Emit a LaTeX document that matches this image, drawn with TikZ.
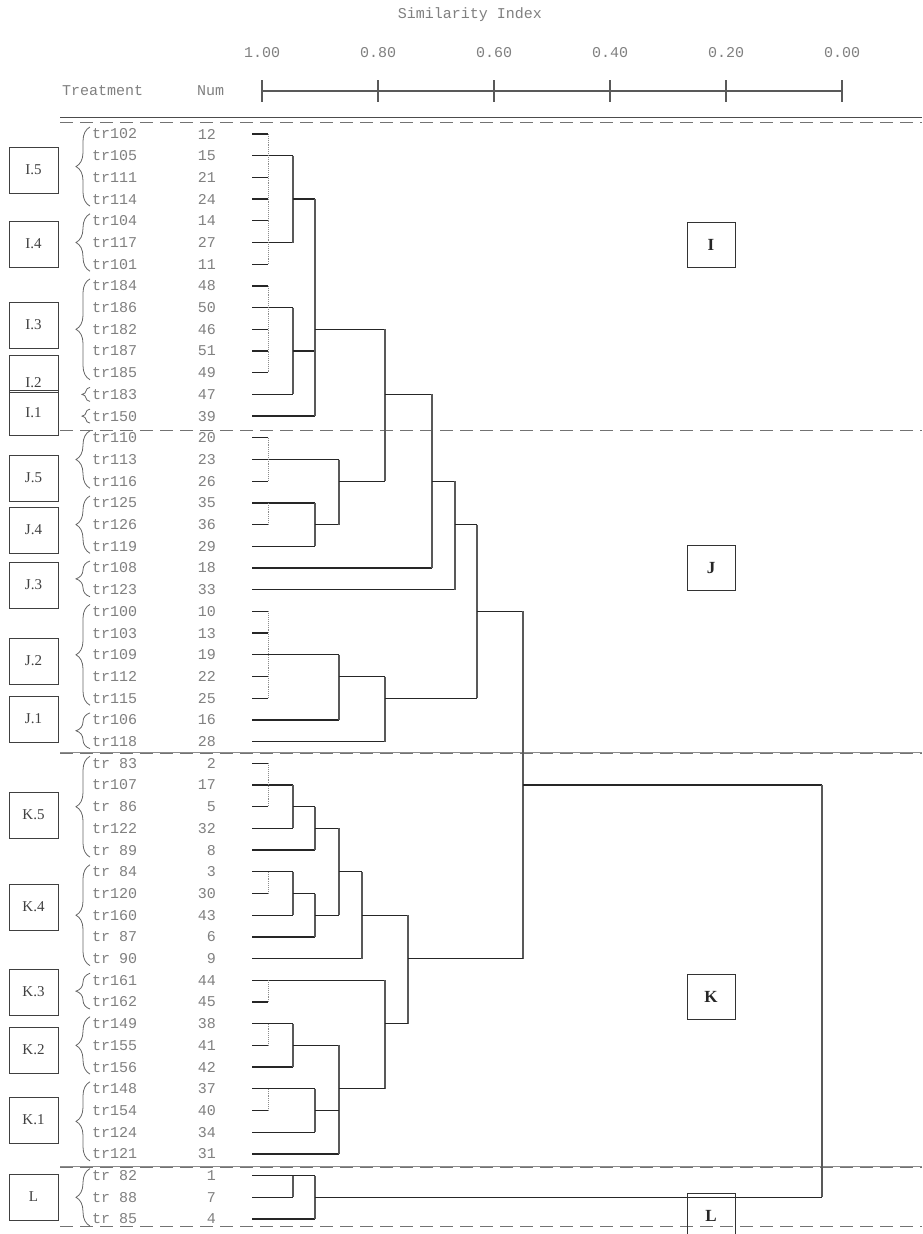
\documentclass[tikz,border=0pt]{standalone}
\usepackage{fontspec}
\setmainfont{Liberation Serif}
\newfontfamily\dotfont{Liberation Mono}
\usetikzlibrary{decorations.pathreplacing}
\newcommand\rowy[1]{134+21.7*(#1)}
\newcommand\Hl[3]{\draw[hl] (#1,{\rowy{#3}}) -- (#2,{\rowy{#3}});}
\newcommand\Vl[3]{\draw[vl] (#1,{\rowy{#2}}) -- (#1,{\rowy{#3}});}
\newcommand\Dv[2]{\draw[dv] (268,{\rowy{#1}}) -- (268,{\rowy{#2}});}
\begin{document}
\begin{tikzpicture}[x=1pt,y=-1pt,
 hl/.style={line width=1.3pt,black!85},
 vl/.style={line width=1.1pt,black!65},
 dv/.style={line width=0.9pt,black!45,densely dotted},
 sep/.style={line width=0.9pt,black!55,dash pattern=on 13pt off 7pt},
 mono/.style={font=\dotfont\fontsize{15}{16}\selectfont,text=black!50,inner sep=0pt},
 grp/.style={draw=black!75,line width=1pt,minimum width=49pt,minimum height=46pt,inner sep=0pt,font=\fontsize{15}{16}\selectfont,text=black!75},
 big/.style={draw=black!80,line width=1pt,minimum width=48pt,minimum height=45pt,inner sep=0pt,font=\fontsize{17}{18}\selectfont\bfseries,text=black!85},
 brc/.style={draw=black!60,line width=0.8pt,decorate,decoration={brace,amplitude=14pt}}]
\useasboundingbox (0,0) rectangle (922,1234);
\fill[white] (0,0) rectangle (922,1234);

% header
\node[mono] (title) at (470,15) {Similarity Index};
\foreach \t/\x in {1.00/262,0.80/378,0.60/494,0.40/610,0.20/726,0.00/842}
  \node[mono] (t\x) at (\x,53) {\t};
\node[mono,anchor=west] (treat) at (62,91) {Treatment};
\node[mono,anchor=west] (numh) at (197,91) {Num};
\draw[vl] (262,91) -- (842,91);
\foreach \x in {262,378,494,610,726,842}
  \draw[vl] (\x,80) -- (\x,102);

% separators
\draw[line width=1pt,black!70] (60,117) -- (922,117);
\draw[sep] (60,122) -- (922,122);
\draw[sep] (60,430) -- (922,430);
\draw[line width=0.6pt,black!45] (60,752) -- (922,752);
\draw[sep] (60,753) -- (922,753);
\draw[line width=0.6pt,black!45] (60,1166) -- (922,1166);
\draw[sep] (60,1167) -- (922,1167);
\draw[sep] (60,1226) -- (922,1226);

% leaves
\foreach \n/\v/\e [count=\i from 0] in {
 tr102/12/268, tr105/15/293, tr111/21/268, tr114/24/268, tr104/14/268, tr117/27/293, tr101/11/268,
 tr184/48/268, tr186/50/293, tr182/46/268, tr187/51/268, tr185/49/268, tr183/47/293, tr150/39/315,
 tr110/20/268, tr113/23/339, tr116/26/268, tr125/35/315, tr126/36/268, tr119/29/315, tr108/18/432, tr123/33/455,
 tr100/10/268, tr103/13/268, tr109/19/339, tr112/22/268, tr115/25/268, tr106/16/339, tr118/28/385,
 tr 83/2/268, tr107/17/293, tr 86/5/268, tr122/32/293, tr 89/8/315,
 tr 84/3/293, tr120/30/268, tr160/43/293, tr 87/6/315, tr 90/9/362,
 tr161/44/385, tr162/45/268,
 tr149/38/293, tr155/41/268, tr156/42/293,
 tr148/37/315, tr154/40/268, tr124/34/315, tr121/31/339,
 tr 82/1/315, tr 88/7/293, tr 85/4/315} {
  \node[mono,anchor=west] (lf\i) at (92,{\rowy{\i}}) {\n};
  \node[mono,anchor=east] (nm\i) at (216,{\rowy{\i}}) {\v};
  \draw[hl] (252,{\rowy{\i}}) -- (\e,{\rowy{\i}});
}

% groups (left)
\foreach \g/\a/\b/\c in {I.5/0/3/170, I.4/4/6/244, I.3/7/11/325, J.5/14/16/478, J.4/17/19/530,
  J.3/20/21/585, J.2/22/26/661, J.1/27/28/719, K.5/29/33/815, K.4/34/38/907, K.3/39/40/992,
  K.2/41/43/1050, K.1/44/47/1120, L/48/50/1197} {
  \node[grp] (g\a) at (33.5,\c) {\g};
  \draw[brc] (90,{\rowy{\b}+7}) -- (90,{\rowy{\a}-7});
}
\node[grp,minimum height=37pt] (gI2) at (33.5,373.5) {};
\node[font=\fontsize{15}{16}\selectfont,text=black!75,inner sep=0pt] (gI2t) at (33.5,383) {I.2};
\node[grp,minimum height=45pt] (gI1) at (33.5,412.5) {I.1};
\draw[brc,decoration={brace,amplitude=8pt}] (90,{\rowy{12}+7}) -- (90,{\rowy{12}-7});
\draw[brc,decoration={brace,amplitude=8pt}] (90,{\rowy{13}+7}) -- (90,{\rowy{13}-7});

% dotted near-identity links
\Dv{0}{6} \Dv{7}{11} \Dv{14}{16} \Dv{17}{18} \Dv{22}{26}
\Dv{29}{31} \Dv{34}{35} \Dv{39}{40} \Dv{41}{42} \Dv{44}{45}

% cluster I
\Vl{293}{1}{5} \Hl{293}{315}{3}
\Vl{293}{8}{12} \Hl{293}{315}{10}
\Vl{315}{3}{13} \Hl{315}{385}{9}
% J.5 / J.4
\Vl{315}{17}{19} \Hl{315}{339}{18}
\Vl{339}{15}{18} \Hl{339}{385}{16}
\Vl{385}{9}{16} \Hl{385}{432}{12}
\Vl{432}{12}{20} \Hl{432}{455}{16}
\Vl{455}{16}{21} \Hl{455}{477}{18}
% J.2 / J.1
\Vl{339}{24}{27} \Hl{339}{385}{25}
\Vl{385}{25}{28} \Hl{385}{477}{26}
\Vl{477}{18}{26} \Hl{477}{523}{22}
\Vl{523}{22}{38} \Hl{523}{822}{30}
\Vl{822}{30}{49}
% K.5
\Vl{293}{30}{32} \Hl{293}{315}{31}
\Vl{315}{31}{33} \Hl{315}{339}{32}
\Vl{339}{32}{36}
% K.4
\Vl{293}{34}{36} \Hl{293}{315}{35}
\Vl{315}{35}{37} \Hl{315}{339}{36}
\Hl{339}{362}{34}
\Vl{362}{34}{38} \Hl{362}{408}{36}
\Vl{408}{36}{41} \Hl{408}{523}{38}
% K.3 - K.1
\Vl{385}{39}{44} \Hl{385}{408}{41}
\Vl{293}{41}{43} \Hl{293}{339}{42}
\Vl{339}{42}{47}
\Vl{315}{44}{46} \Hl{315}{339}{45}
\Hl{339}{385}{44}
% L
\Vl{293}{48}{49}
\Vl{315}{48}{50} \Hl{315}{822}{49}

% big cluster labels
\node[big] (bI) at (711,245) {I};
\node[big] (bJ) at (711,568) {J};
\node[big] (bK) at (711,997) {K};
\node[big,minimum height=46pt] (bL) at (711,1216) {L};
\end{tikzpicture}
\end{document}
